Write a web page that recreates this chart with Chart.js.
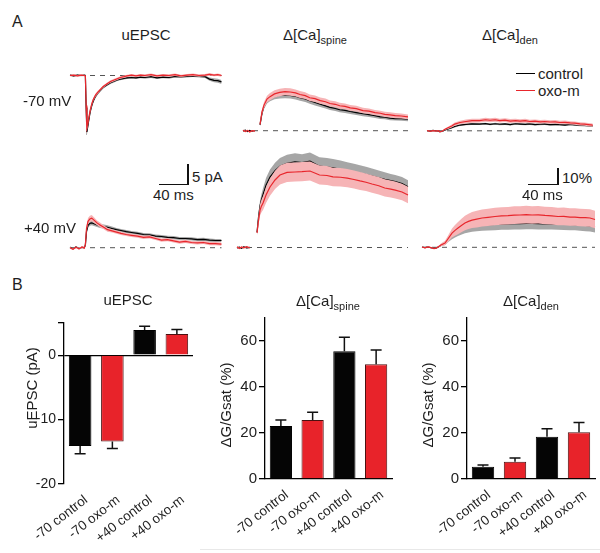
<!DOCTYPE html>
<html><head><meta charset="utf-8">
<script src="https://cdn.jsdelivr.net/npm/chart.js@4.4.0/dist/chart.umd.min.js"></script>
<style>
html,body{margin:0;padding:0;background:#fff;}
#fig{position:relative;width:600px;height:553px;overflow:hidden;font-family:"Liberation Sans",Arial,sans-serif;color:#1e1e1e;}
#fig canvas{position:absolute;}
.t{position:absolute;white-space:nowrap;line-height:1;font-size:15px;z-index:2;}
.c{transform:translate(-50%,-50%);}
.l{transform:translateY(-50%);}
.rot{position:absolute;width:120px;height:16px;line-height:16px;font-size:15px;text-align:center;transform:rotate(-90deg);transform-origin:60px 8px;z-index:2;white-space:nowrap;}
.sub{font-size:11px;position:relative;top:4px;}
.bar{position:absolute;background:#111;z-index:2;}
</style></head><body><div id="fig">
<div class="t l" style="left:12px;top:22px;font-size:16px;">A</div>
<div class="t l" style="left:12px;top:285px;font-size:16px;">B</div>
<div class="t c" style="left:146px;top:34px;">uEPSC</div>
<div class="t c" style="left:315px;top:34px;">Δ[Ca]<span class="sub">spine</span></div>
<div class="t c" style="left:510px;top:34px;">Δ[Ca]<span class="sub">den</span></div>
<div class="t c" style="left:128px;top:299px;">uEPSC</div>
<div class="t c" style="left:328px;top:300px;">Δ[Ca]<span class="sub">spine</span></div>
<div class="t c" style="left:531px;top:300px;">Δ[Ca]<span class="sub">den</span></div>
<div class="t l" style="left:23px;top:100px;">-70 mV</div>
<div class="t l" style="left:24px;top:227px;">+40 mV</div>
<div class="t l" style="left:192px;top:176px;">5 pA</div>
<div class="t l" style="left:153px;top:194px;">40 ms</div>
<div class="t l" style="left:562px;top:177px;">10%</div>
<div class="t l" style="left:522px;top:194px;">40 ms</div>
<div class="bar" style="left:187px;top:164px;width:1.5px;height:21px;"></div>
<div class="bar" style="left:159px;top:183.5px;width:30px;height:1.5px;"></div>
<div class="bar" style="left:557px;top:168px;width:1.5px;height:17px;"></div>
<div class="bar" style="left:528px;top:183.5px;width:31px;height:1.5px;"></div>
<div class="bar" style="left:516px;top:72.5px;width:19px;height:1.3px;background:#000;"></div>
<div class="t l" style="left:538px;top:73px;">control</div>
<div class="bar" style="left:516px;top:89.5px;width:19px;height:1.3px;background:#e8262c;"></div>
<div class="t l" style="left:538px;top:90px;">oxo-m</div>
<div class="rot" style="left:-28px;top:380px;">uEPSC (pA)</div>
<div class="rot" style="left:166px;top:397px;">ΔG/Gsat (%)</div>
<div class="rot" style="left:368px;top:397px;">ΔG/Gsat (%)</div>
<div style="position:absolute;left:200px;top:549px;width:400px;height:1px;background:#e8e8e8;"></div>
</div>
<script>
// ===== Panel A: averaged traces (time in ms; uEPSC in pA; Ca in % dG/Gsat) =====
const tE70 = [0,5,10,15,19,20.5,21.5,22.5,23.5,25,27,29,31,34,37,40,44,49,54,58,63,67,72,76,82,88,94,100,108,116,124,132,140,148,156,164,172,180,186,192,197,202];
const ctlE70 = [0.1,-0.1,0.1,0,0.1,0,-8.0,-14.1,-13.0,-11.2,-9.0,-7.5,-6.4,-5.2,-4.4,-3.8,-3.0,-2.4,-1.8,-1.5,-1.1,-0.9,-0.7,-0.6,-0.5,-0.6,-0.4,-0.5,-0.3,-0.6,-0.4,-0.5,-0.2,-0.3,-0.2,-0.1,-0.2,-0.3,-0.9,-1.2,-1.3,-1.6];
const ctlE70sem = [0.2,0.2,0.2,0.2,0.2,0.2,0.6,0.8,0.8,0.7,0.6,0.5,0.5,0.4,0.4,0.4,0.3,0.3,0.3,0.3,0.3,0.3,0.3,0.3,0.3,0.3,0.3,0.3,0.3,0.3,0.3,0.3,0.3,0.3,0.3,0.3,0.3,0.3,0.4,0.5,0.5,0.5];
const oxoE70 = [0,0.1,-0.1,0.1,0,-0.1,-7.5,-13.1,-12.3,-10.6,-8.6,-7.1,-6.0,-4.9,-4.2,-3.6,-2.8,-2.1,-1.5,-1.2,-0.8,-0.5,-0.3,-0.1,0.1,-0.1,0.1,0,0.2,-0.1,0.1,0,0.2,-0.1,0.1,0.2,0,0.1,0.3,0.1,0.2,0];
const oxoE70sem = [0.2,0.2,0.2,0.2,0.2,0.2,0.5,0.7,0.7,0.6,0.5,0.5,0.4,0.4,0.4,0.3,0.3,0.3,0.3,0.3,0.3,0.3,0.3,0.3,0.3,0.3,0.3,0.3,0.3,0.3,0.3,0.3,0.3,0.3,0.3,0.3,0.3,0.3,0.3,0.3,0.3,0.3];

const tE40 = [0,4,8,12,16,19,20.5,22,24,26.5,29,32,36,40,45,50,56,62,68,75,82,90,98,106,114,122,130,138,146,154,162,170,178,186,194,202];
const ctlE40 = [0.1,-0.3,0.2,-0.2,0.1,0,0.6,4.0,5.6,6.1,6.2,6.0,5.7,5.4,5.3,5.1,4.8,4.5,4.3,4.0,3.8,3.6,3.3,3.2,2.9,2.8,2.6,2.5,2.3,2.3,2.2,2.0,2.1,1.9,1.8,1.8];
const ctlE40sem = [0.2,0.2,0.2,0.2,0.2,0.2,0.3,0.5,0.6,0.6,0.6,0.6,0.5,0.5,0.5,0.5,0.5,0.4,0.4,0.4,0.4,0.4,0.4,0.4,0.4,0.4,0.4,0.4,0.4,0.4,0.4,0.4,0.4,0.4,0.4,0.4];
const oxoE40 = [0,-0.4,0.1,-0.3,0.2,-0.1,0.8,4.8,6.6,7.2,7.4,6.9,6.2,5.7,5.1,4.5,4.2,3.9,3.6,3.3,3.1,2.9,2.6,2.7,2.3,1.9,2.0,1.7,1.4,1.6,1.3,1.2,1.3,1.0,1.0,0.9];
const oxoE40sem = [0.2,0.2,0.2,0.2,0.2,0.2,0.4,0.7,0.8,0.8,0.8,0.7,0.6,0.6,0.5,0.5,0.4,0.4,0.4,0.4,0.4,0.4,0.4,0.4,0.4,0.4,0.4,0.4,0.4,0.4,0.4,0.4,0.4,0.4,0.4,0.4];

const tS70 = [0,3,6,9,12,16,19,22.7,25.3,28,32,36,42,49,56,63,70,76,83,89,96,103,110,116,123,129,136,143,151,160,168,176,183,189,196,203,211,220];
const ctlS70 = [-0.2,0.3,-0.6,0.2,-0.4,0.1,null,3.6,10.8,15.2,18.9,20.4,21.6,22.2,22.4,22.1,21.5,20.6,19.8,18.7,17.6,16.5,15.5,14.6,13.9,13.1,12.7,12.0,11.3,10.6,10.0,9.4,8.7,8.5,7.9,7.6,7.5,7.2];
const ctlS70sem = [0.4,0.4,0.4,0.4,0.4,0.4,0,0.9,1.4,1.7,1.9,2.0,2.0,2.1,2.1,2.0,2.0,1.9,1.9,1.8,1.8,1.7,1.7,1.7,1.6,1.6,1.6,1.5,1.5,1.5,1.4,1.4,1.4,1.4,1.3,1.3,1.3,1.3];
const oxoS70 = [0.3,-0.5,0.2,-0.8,0.1,-0.3,null,4.0,11.7,16.0,19.8,21.3,23.0,23.9,24.4,24.2,23.6,22.6,21.9,20.6,20.0,18.8,18.1,17.0,16.5,15.6,15.2,14.3,13.8,12.6,12.2,11.3,10.9,10.2,9.9,9.4,9.2,8.6];
const oxoS70sem = [0.4,0.4,0.4,0.4,0.4,0.4,0,1.0,1.6,1.9,2.1,2.2,2.3,2.3,2.3,2.3,2.2,2.2,2.1,2.1,2.0,2.0,2.0,1.9,1.9,1.9,1.8,1.8,1.8,1.7,1.7,1.7,1.6,1.6,1.6,1.6,1.5,1.5];

const tS40 = [0,3,6,9,13,17,22,26.7,28.7,30.7,32.7,34.7,38.7,44,50.7,57.3,66.7,77.3,86.7,97.3,110,120,128,138,147,156,164,172,180,189,197,205,211,220,228];
const ctlS40 = [-0.3,0.2,-0.5,0.4,-0.2,0.1,null,9.5,19,26,30,33,39,44,48.0,50.8,52.6,53.6,53.0,54.0,50.8,50.3,49.8,48.9,48.0,47.2,46.4,45.5,44.7,43.6,42.6,41.8,41.2,40.0,38.0];
const ctlS40sem = [0.4,0.4,0.4,0.4,0.4,0.4,0,1.5,2.5,3.2,3.6,4.0,4.4,4.8,5.0,5.2,5.3,5.3,5.3,5.4,5.6,5.6,5.5,5.4,5.3,5.1,5.0,4.9,4.7,4.5,4.4,4.2,4.1,4.0,4.0];
const oxoS40 = [0.4,-0.6,0.3,-0.2,0.5,-0.3,null,9.1,17,23.4,26,27.8,32.8,37.8,42.2,45.3,46.9,47.2,47.4,47.8,45.3,45.0,44.1,43.9,43.4,42.5,41.6,40.8,39.7,38.6,37.2,36.5,35.9,34.7,32.8];
const oxoS40sem = [0.4,0.4,0.4,0.4,0.4,0.4,0,1.5,2.8,3.6,4.0,4.4,5.0,5.4,5.7,5.9,6.0,6.0,6.0,6.0,5.9,5.9,5.8,5.8,5.7,5.7,5.6,5.5,5.5,5.4,5.4,5.3,5.3,5.2,5.2];

const tD70 = [0,4,8,12,15,17,20,24,28,33,37,44,52,60,70,78,84,91,97,104,111,118,124,131,137,144,151,157,164,171,177,184,191,197,204,210,215,221];
const ctlD70 = [0.1,-0.2,0.2,-0.1,0,-0.5,-0.4,0.5,1.1,2.0,2.7,3.6,4.0,4.3,4.2,4.5,4.0,4.4,4.1,4.3,3.9,4.4,4.2,4.0,4.3,3.9,4.1,4.2,3.8,4.0,3.9,3.6,4.0,3.7,3.5,3.3,3.2,3.0];
const ctlD70sem = [0.3,0.3,0.3,0.3,0.3,0.3,0.3,0.4,0.5,0.6,0.6,0.6,0.6,0.6,0.6,0.6,0.6,0.6,0.6,0.6,0.6,0.6,0.6,0.6,0.6,0.6,0.6,0.6,0.6,0.6,0.6,0.6,0.6,0.6,0.6,0.6,0.6,0.6];
const oxoD70 = [0.2,-0.3,0.1,-0.2,0.1,-0.6,-0.3,1.0,1.9,3.0,4.2,5.2,5.8,6.3,6.4,6.9,6.6,6.9,6.4,6.7,6.1,6.4,6.0,6.3,5.8,6.0,5.6,5.8,5.5,5.6,5.2,5.3,4.9,4.8,4.3,4.2,3.9,3.6];
const oxoD70sem = [0.3,0.3,0.3,0.3,0.3,0.3,0.3,0.5,0.7,0.9,1.0,1.1,1.2,1.2,1.2,1.2,1.2,1.2,1.2,1.2,1.2,1.2,1.2,1.2,1.1,1.1,1.1,1.1,1.1,1.1,1.1,1.1,1.0,1.0,1.0,1.0,1.0,1.0];

const tD40 = [0,4,8,12,16,19,21.3,25.3,30.7,35,40,44,48,53,57.3,62,66.7,73,80,88,97.3,106,114.7,123,130.7,139,146.7,155,164,173,181.3,189,197.3,204,210.7,218,224,230.7];
const ctlD40 = [0.1,-0.2,0.2,-0.3,-0.6,-0.4,0.1,1.3,2.4,4.8,7.1,8.6,9.8,11.0,12.0,12.6,13.1,13.5,13.9,14.1,14.3,14.5,14.6,14.8,14.8,14.9,14.9,14.8,14.7,14.7,14.6,14.4,14.3,14.2,13.9,13.7,13.4,12.9];
const ctlD40sem = [0.3,0.3,0.3,0.3,0.3,0.3,0.3,0.7,1.0,1.5,2.0,2.4,2.7,3.0,3.2,3.3,3.4,3.5,3.5,3.6,3.6,3.6,3.6,3.6,3.6,3.6,3.6,3.6,3.6,3.6,3.6,3.6,3.6,3.6,3.6,3.6,3.6,3.6];
const oxoD40 = [0.2,-0.3,0.3,-0.2,-0.8,-0.5,0.2,1.5,2.7,5.5,8.9,10.6,12.0,13.8,15.2,16.2,17.0,17.6,18.3,18.7,19.25,19.6,19.75,20.1,20.2,20.4,20.2,20.3,19.9,19.7,19.25,19.3,18.9,18.9,18.6,18.5,18.3,17.4];
const oxoD40sem = [0.3,0.3,0.3,0.3,0.3,0.3,0.3,0.9,1.4,2.0,2.8,3.4,3.8,4.2,4.5,4.8,5.0,5.2,5.3,5.4,5.5,5.5,5.5,5.5,5.5,5.5,5.5,5.5,5.5,5.5,5.5,5.5,5.5,5.5,5.5,5.5,5.5,5.5];

// ===== Panel B: summary bars (mean, SEM) =====
const barCategories = ['-70 control','-70 oxo-m','+40 control','+40 oxo-m'];
const uepscMean = [-14.1,-13.4,3.9,3.3];
const uepscErr  = [1.2,1.1,0.6,0.7];
const spineMean = [23.0,25.6,55.5,49.9];
const spineErr  = [2.6,3.4,6.1,6.2];
const denMean   = [5.3,7.5,18.4,20.3];
const denErr    = [0.8,1.6,3.5,4.3];
const uepscTicks = [-20,-10,0,5];
const caTicks = [0,20,40,60];

// ===== drawing =====
Chart.defaults.font.family = '"Liberation Sans", Arial, sans-serif';
Chart.defaults.color = '#1e1e1e';
const RED = '#e8262c', PINK = '#f6b4b6', GRAY = '#a6a6a6';
const fig = document.getElementById('fig');
function makeCanvas(left, top, w, h) {
  const c = document.createElement('canvas');
  c.width = w; c.height = h;
  Object.assign(c.style, {left: left+'px', top: top+'px', width: w+'px', height: h+'px'});
  fig.appendChild(c);
  return c;
}
function pts(t, m, s, k) { return t.map((x, i) => ({x, y: m[i] === null ? null : m[i] + k * (s[i] || 0)})); }

function trace(g, t, ctl, ctlSem, oxo, oxoSem) {
  const c = makeCanvas(g.left, g.top, g.w, g.h);
  const xmin = (g.left - g.x0) / g.xs, xmax = (g.left + g.w - g.x0) / g.xs;
  const ymax = (g.y0 - g.top) / g.ys, ymin = (g.y0 - g.top - g.h) / g.ys;
  const base = [{x: t[0], y: 0}, {x: t[t.length - 1], y: 0}];
  new Chart(c, {
    type: 'line',
    data: {datasets: [
      {data: pts(t, ctl, ctlSem, 1), fill: '+1', backgroundColor: GRAY, borderWidth: 0, order: 5},
      {data: pts(t, ctl, ctlSem, -1), fill: false, borderWidth: 0, order: 5},
      {data: pts(t, ctl, ctlSem, 0), fill: false, borderColor: '#000', borderWidth: 1.2, order: 4},
      {data: pts(t, oxo, oxoSem, 1), fill: '+1', backgroundColor: PINK, borderWidth: 0, order: 3},
      {data: pts(t, oxo, oxoSem, -1), fill: false, borderWidth: 0, order: 3},
      {data: pts(t, oxo, oxoSem, 0), fill: false, borderColor: RED, borderWidth: 1.2, order: 2},
      {data: base, fill: false, borderColor: '#555', borderWidth: 1, borderDash: [5, 5], order: 6}
    ]},
    options: {
      responsive: false, animation: false, devicePixelRatio: 1, events: [],
      layout: {padding: 0}, spanGaps: false,
      plugins: {legend: {display: false}, tooltip: {enabled: false}},
      elements: {point: {radius: 0}, line: {tension: 0}},
      scales: {x: {type: 'linear', display: false, min: xmin, max: xmax},
               y: {type: 'linear', display: false, min: ymin, max: ymax}}
    }
  });
}

trace({left:62, top:60, w:166, h:78, x0:70, y0:75.5, xs:0.75, ys:4}, tE70, ctlE70, ctlE70sem, oxoE70, oxoE70sem);
trace({left:62, top:203, w:166, h:52, x0:70, y0:247.7, xs:0.75, ys:4}, tE40, ctlE40, ctlE40sem, oxoE40, oxoE40sem);
trace({left:234, top:78, w:180, h:58, x0:243, y0:130.7, xs:0.75, ys:1.6}, tS70, ctlS70, ctlS70sem, oxoS70, oxoS70sem);
trace({left:232, top:143, w:182, h:110, x0:237, y0:247.5, xs:0.75, ys:1.6}, tS40, ctlS40, ctlS40sem, oxoS40, oxoS40sem);
trace({left:418, top:106, w:182, h:30, x0:427, y0:130.8, xs:0.75, ys:1.6}, tD70, ctlD70, ctlD70sem, oxoD70, oxoD70sem);
trace({left:416, top:195, w:184, h:58, x0:422, y0:247.3, xs:0.75, ys:1.6}, tD40, ctlD40, ctlD40sem, oxoD40, oxoD40sem);

const errPlugin = {
  id: 'errbars',
  afterDatasetsDraw(chart, args, opts) {
    const ctx = chart.ctx, ys = chart.scales.y, meta = chart.getDatasetMeta(0);
    const vals = chart.data.datasets[0].data;
    ctx.save(); ctx.strokeStyle = '#111'; ctx.lineWidth = 1.5;
    meta.data.forEach((bar, i) => {
      const v = vals[i], e = opts.errors[i], sg = v < 0 ? -1 : 1;
      const y1 = ys.getPixelForValue(v), y2 = ys.getPixelForValue(v + sg * e);
      ctx.beginPath();
      ctx.moveTo(bar.x, y1); ctx.lineTo(bar.x, y2);
      ctx.moveTo(bar.x - 5.5, y2); ctx.lineTo(bar.x + 5.5, y2);
      ctx.stroke();
    });
    ctx.restore();
  }
};

function bars(g, mean, err, ticks, zeroLine, xBorder) {
  const c = makeCanvas(g.left, g.top, g.w, g.h);
  new Chart(c, {
    type: 'bar',
    data: {labels: barCategories, datasets: [{
      data: mean,
      backgroundColor: ['#050505', '#e8232a', '#050505', '#e8232a'],
      borderColor: ['#000', '#4a1010', '#000', '#4a1010'],
      borderWidth: 1, barPercentage: 0.7, categoryPercentage: 1
    }]},
    options: {
      responsive: false, animation: false, devicePixelRatio: 1, events: [],
      layout: {padding: {top: g.pt, right: g.pr, left: 0, bottom: 0}},
      plugins: {legend: {display: false}, tooltip: {enabled: false}, errbars: {errors: err}},
      scales: {
        x: {
          grid: {display: false},
          border: {display: xBorder, color: '#000', width: 1.3},
          ticks: {font: {size: 13.5}, color: '#1e1e1e', minRotation: 38, maxRotation: 38, autoSkip: false, padding: 0, labelOffset: 6},
          afterFit: s => { s.height = g.xh; }
        },
        y: {
          min: g.ymin, max: g.ymax,
          afterBuildTicks: s => { s.ticks = ticks.map(v => ({value: v})); },
          ticks: {font: {size: g.fs}, color: '#1e1e1e', padding: 2,
                  callback: v => (v === g.ymax ? '' : String(v))},
          grid: {drawOnChartArea: zeroLine, color: ctx => (ctx.tick && ctx.tick.value === 0) ? '#000' : 'rgba(0,0,0,0)',
                 tickColor: '#000', tickLength: 6, lineWidth: 1.3, tickWidth: 1.3},
          border: {display: true, color: '#000', width: 1.3},
          afterFit: s => { s.width = g.yw; }
        }
      }
    },
    plugins: [errPlugin]
  });
}

bars({left:0, top:305, w:200, h:248, pt:18, pr:7, xh:69, yw:64, ymin:-20, ymax:5, fs:14}, uepscMean, uepscErr, uepscTicks, true, false);
bars({left:203, top:305, w:197, h:248, pt:13, pr:8, xh:74, yw:62, ymin:0, ymax:70, fs:15}, spineMean, spineErr, caTicks, false, true);
bars({left:403, top:305, w:197, h:248, pt:13, pr:5, xh:74, yw:64, ymin:0, ymax:70, fs:15}, denMean, denErr, caTicks, false, true);
</script>
</body></html>
